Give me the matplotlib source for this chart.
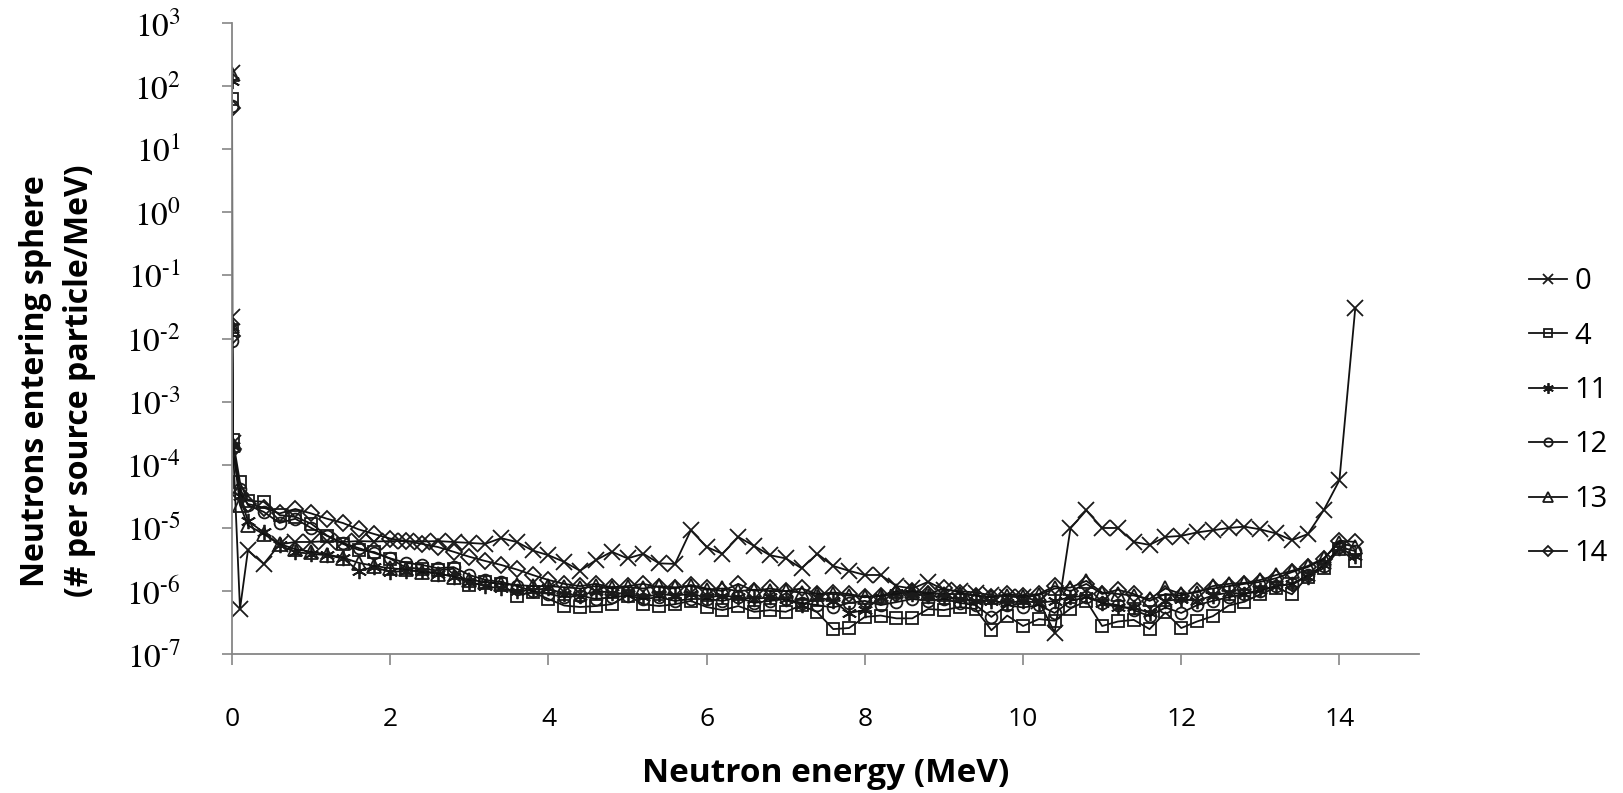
import numpy as np
import matplotlib
matplotlib.use("Agg")
import matplotlib.pyplot as plt
from matplotlib.ticker import FixedLocator, FuncFormatter, NullLocator

plt.rcParams['mathtext.fontset'] = 'stix'

# energy bins (MeV): three tiny low-energy bins sit on the axis at ~0
energy = [0.0, 0.001, 0.01, 0.1,
          0.2, 0.4, 0.6, 0.8, 1.0, 1.2, 1.4, 1.6, 1.8, 2.0,
          2.2, 2.4, 2.6, 2.8, 3.0, 3.2, 3.4, 3.6, 3.8, 4.0,
          4.2, 4.4, 4.6, 4.8, 5.0, 5.2, 5.4, 5.6, 5.8, 6.0,
          6.2, 6.4, 6.6, 6.8, 7.0, 7.2, 7.4, 7.6, 7.8, 8.0,
          8.2, 8.4, 8.6, 8.8, 9.0, 9.2, 9.4, 9.6, 9.8, 10.0,
          10.2, 10.4, 10.6, 10.8, 11.0, 11.2, 11.4, 11.6, 11.8, 12.0,
          12.2, 12.4, 12.6, 12.8, 13.0, 13.2, 13.4, 13.6, 13.8, 14.0,
          14.2]

s0 = [160, 0.022, 2.2e-4, 5.2e-7,
      4.4e-6, 2.7e-6, 5.5e-6, 6.0e-6, 6.0e-6, 6.2e-6, 6.0e-6, 6.2e-6, 6.1e-6, 6.2e-6,
      6.2e-6, 6.1e-6, 6.2e-6, 6.0e-6, 5.8e-6, 5.6e-6, 6.9e-6, 6.0e-6, 4.4e-6, 3.7e-6,
      2.9e-6, 2.1e-6, 3.1e-6, 4.2e-6, 3.3e-6, 3.9e-6, 2.75e-6, 2.7e-6, 9.2e-6, 5.0e-6,
      3.9e-6, 7.2e-6, 5.2e-6, 3.7e-6, 3.3e-6, 2.3e-6, 3.9e-6, 2.5e-6, 2.1e-6, 1.8e-6,
      1.8e-6, 1.2e-6, 1.1e-6, 1.4e-6, 1.05e-6, 1.0e-6, 9.5e-7, 8.6e-7, 8.2e-7, 8.0e-7,
      7.0e-7, 2.2e-7, 9.9e-6, 1.9e-5, 1.0e-5, 1.0e-5, 6.0e-6, 5.4e-6, 7.2e-6, 7.5e-6,
      8.5e-6, 9.2e-6, 1.0e-5, 1.05e-5, 9.5e-6, 8.2e-6, 6.4e-6, 8.0e-6, 1.9e-5, 5.7e-5,
      0.03]

s4 = [62, 0.0135, 2.5e-4, 5.3e-5,
      2.7e-5, 2.6e-5, 1.6e-5, 1.5e-5, 1.17e-5, 7.6e-6, 5.6e-6, 4.5e-6, 4.15e-6, 3.26e-6,
      2.35e-6, 2.26e-6, 2.13e-6, 2.26e-6, 1.23e-6, 1.39e-6, 1.3e-6, 8.5e-7, 9.6e-7, 7.5e-7,
      5.9e-7, 5.6e-7, 5.8e-7, 6.2e-7, 8.5e-7, 6.2e-7, 5.8e-7, 6.2e-7, 7.0e-7, 5.6e-7,
      5.0e-7, 5.8e-7, 4.7e-7, 5.0e-7, 4.7e-7, 6.0e-7, 4.6e-7, 2.5e-7, 2.6e-7, 3.9e-7,
      4.1e-7, 3.7e-7, 3.7e-7, 5.2e-7, 5.0e-7, 5.6e-7, 5.2e-7, 2.4e-7, 4.1e-7, 2.8e-7,
      3.6e-7, 3.4e-7, 5.3e-7, 7.0e-7, 2.8e-7, 3.3e-7, 3.5e-7, 2.5e-7, 4.6e-7, 2.6e-7,
      3.3e-7, 4.0e-7, 5.9e-7, 6.8e-7, 8.9e-7, 1.14e-6, 8.9e-7, 1.7e-6, 2.3e-6, 4.6e-6,
      3.0e-6]

s11 = [120, 0.015, 2.0e-4, 3.2e-5,
       1.3e-5, 8.5e-6, 5.3e-6, 4.15e-6, 3.9e-6, 3.7e-6, 3.3e-6, 2.1e-6, 2.4e-6, 2.0e-6,
       2.1e-6, 2.1e-6, 1.9e-6, 1.7e-6, 1.4e-6, 1.2e-6, 1.1e-6, 1.0e-6, 1.05e-6, 1.1e-6,
       9.0e-7, 8.5e-7, 1.0e-6, 9.5e-7, 9.0e-7, 8.0e-7, 9.0e-7, 8.5e-7, 9.0e-7, 8.0e-7,
       8.5e-7, 8.0e-7, 7.5e-7, 8.0e-7, 7.5e-7, 6.0e-7, 8.0e-7, 7.0e-7, 4.5e-7, 5.0e-7,
       8.0e-7, 9.5e-7, 9.0e-7, 8.5e-7, 8.0e-7, 7.5e-7, 7.0e-7, 7.0e-7, 6.5e-7, 7.0e-7,
       6.5e-7, 7.0e-7, 8.0e-7, 8.5e-7, 6.5e-7, 5.5e-7, 5.5e-7, 4.5e-7, 7.0e-7, 7.5e-7,
       7.0e-7, 8.5e-7, 9.5e-7, 9.0e-7, 1.05e-6, 1.2e-6, 1.3e-6, 1.7e-6, 2.6e-6, 4.8e-6,
       3.6e-6]

s12 = [48, 0.0093, 1.9e-4, 4.2e-5,
       2.3e-5, 1.8e-5, 1.2e-5, 1.4e-5, 1.0e-5, 7.5e-6, 5.8e-6, 4.8e-6, 4.0e-6, 3.3e-6,
       2.8e-6, 2.6e-6, 2.3e-6, 2.4e-6, 1.8e-6, 1.5e-6, 1.4e-6, 1.2e-6, 1.0e-6, 9.0e-7,
       8.0e-7, 8.5e-7, 7.5e-7, 8.0e-7, 8.5e-7, 7.5e-7, 8.0e-7, 7.0e-7, 7.5e-7, 7.5e-7,
       7.0e-7, 8.0e-7, 6.5e-7, 7.0e-7, 7.5e-7, 6.5e-7, 6.0e-7, 5.5e-7, 6.5e-7, 7.0e-7,
       6.0e-7, 6.7e-7, 7.5e-7, 7.0e-7, 7.5e-7, 6.5e-7, 6.0e-7, 3.9e-7, 6.0e-7, 5.5e-7,
       6.0e-7, 4.5e-7, 7.0e-7, 8.0e-7, 6.5e-7, 6.0e-7, 5.0e-7, 4.0e-7, 5.5e-7, 4.5e-7,
       6.0e-7, 7.0e-7, 8.0e-7, 9.0e-7, 1.0e-6, 1.2e-6, 1.3e-6, 1.8e-6, 2.5e-6, 5.0e-6,
       4.3e-6]

s13 = [155, 0.016, 2.1e-4, 2.3e-5,
       1.1e-5, 8.0e-6, 5.6e-6, 4.6e-6, 4.2e-6, 3.8e-6, 3.4e-6, 2.8e-6, 2.5e-6, 2.3e-6,
       2.2e-6, 2.0e-6, 1.9e-6, 1.7e-6, 1.5e-6, 1.4e-6, 1.3e-6, 1.25e-6, 1.2e-6, 1.2e-6,
       1.15e-6, 1.1e-6, 1.2e-6, 1.1e-6, 1.15e-6, 1.1e-6, 1.2e-6, 1.15e-6, 1.2e-6, 1.05e-6,
       1.1e-6, 1.0e-6, 1.05e-6, 1.0e-6, 1.0e-6, 9.5e-7, 9.0e-7, 9.0e-7, 8.5e-7, 8.0e-7,
       8.5e-7, 1.0e-6, 1.0e-6, 9.5e-7, 9.0e-7, 9.0e-7, 8.5e-7, 8.0e-7, 8.5e-7, 8.0e-7,
       8.6e-7, 1.1e-6, 1.14e-6, 1.45e-6, 9.5e-7, 9.0e-7, 8.5e-7, 7.5e-7, 1.1e-6, 9.0e-7,
       9.5e-7, 1.2e-6, 1.3e-6, 1.35e-6, 1.5e-6, 1.8e-6, 2.1e-6, 2.5e-6, 3.3e-6, 5.8e-6,
       5.0e-6]

s14 = [45, 0.011, 1.8e-4, 3.5e-5,
       2.4e-5, 2.1e-5, 1.7e-5, 2.0e-5, 1.7e-5, 1.4e-5, 1.2e-5, 9.5e-6, 8.0e-6, 6.8e-6,
       6.2e-6, 5.6e-6, 5.0e-6, 4.2e-6, 3.5e-6, 3.0e-6, 2.6e-6, 2.2e-6, 1.8e-6, 1.5e-6,
       1.3e-6, 1.2e-6, 1.3e-6, 1.15e-6, 1.2e-6, 1.3e-6, 1.15e-6, 1.1e-6, 1.25e-6, 1.1e-6,
       1.0e-6, 1.3e-6, 1.0e-6, 1.1e-6, 1.0e-6, 1.1e-6, 9.0e-7, 9.5e-7, 9.0e-7, 8.0e-7,
       8.5e-7, 9.0e-7, 1.0e-6, 9.0e-7, 1.1e-6, 9.5e-7, 8.5e-7, 8.0e-7, 9.0e-7, 8.5e-7,
       9.0e-7, 1.2e-6, 1.0e-6, 1.3e-6, 9.0e-7, 1.05e-6, 9.0e-7, 7.0e-7, 9.0e-7, 8.5e-7,
       1.0e-6, 1.1e-6, 1.2e-6, 1.3e-6, 1.4e-6, 1.6e-6, 2.0e-6, 2.4e-6, 3.2e-6, 6.3e-6,
       6.0e-6]

labels = ['0', '4', '11', '12', '13', '14']
series = [s0, s4, s11, s12, s13, s14]
markers = ['x', 's', (6, 2, 0), 'o', '^', 'D']
msizes = [11, 9, 11, 8.5, 9.5, 8]


def exp_label(v, pos):
    e = int(round(np.log10(v)))
    if e < 0:
        return r'$\mathrm{10^{\text{-}%d}}$' % (-e)
    return r'$\mathrm{10^{%d}}$' % e


fig = plt.figure(figsize=(16.23, 7.93), dpi=100)
ax = fig.add_axes([0.143, 0.175, 0.731, 0.796])

for lab, ys, mk, ms in zip(labels, series, markers, msizes):
    ax.plot(energy, ys, color='#111111', lw=1.3, marker=mk, ms=ms,
            mfc='none', mec='#1a1a1a', mew=1.3, label=lab)

ax.set_yscale('log')
ax.set_ylim(1e-7, 1e3)
ax.set_xlim(0, 15)
ax.yaxis.set_major_locator(FixedLocator([10.0 ** e for e in range(-7, 4)]))
ax.yaxis.set_minor_locator(NullLocator())
ax.yaxis.set_major_formatter(FuncFormatter(exp_label))
ax.set_xticks([0, 2, 4, 6, 8, 10, 12, 14])

for side in ['top', 'right']:
    ax.spines[side].set_visible(False)
for side in ['left', 'bottom']:
    ax.spines[side].set_color('#868686')
    ax.spines[side].set_linewidth(1.3)

ax.tick_params(axis='y', direction='out', length=7, width=1.2, color='#868686',
               labelsize=24, pad=30)
ax.tick_params(axis='x', direction='out', length=8, width=1.2, color='#868686',
               labelsize=19, pad=30)
for t in ax.get_xticklabels():
    t.set_fontfamily('Open Sans')

ax.set_xlabel('Neutron energy (MeV)', fontsize=24, fontweight='bold',
              fontfamily='Open Sans', labelpad=18)
fig.text(0.022, 0.52, 'Neutrons entering sphere', rotation=90, ha='center',
         va='center', fontsize=23, fontweight='bold', fontfamily='Open Sans')
fig.text(0.049, 0.52, '(# per source particle/MeV)', rotation=90, ha='center',
         va='center', fontsize=23, fontweight='bold', fontfamily='Open Sans')

leg = ax.legend(loc='upper left', bbox_to_anchor=(0.942, 0.663),
                bbox_transform=fig.transFigure, frameon=False, handlelength=1.3,
                handletextpad=0.25, labelspacing=0.87, markerscale=0.7,
                borderpad=0, borderaxespad=0,
                prop={'family': 'Open Sans', 'size': 21})

fig.savefig('out.png', dpi=100)
